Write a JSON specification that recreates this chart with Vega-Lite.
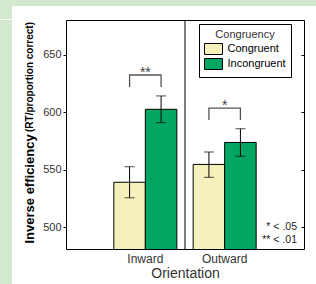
{
  "$schema": "https://vega.github.io/schema/vega-lite/v6.json",
  "padding": 0,
  "background": "white",
  "spacing": 0,
  "config": {
    "font": "Liberation Sans",
    "view": {"stroke": null},
    "concat": {"spacing": 0}
  },
  "datasets": {
    "bars": [
      {"Orientation": "Inward", "Congruency": "Congruent", "mean": 539, "lo": 525.5, "hi": 552.5},
      {"Orientation": "Inward", "Congruency": "Incongruent", "mean": 602.4, "lo": 590.8, "hi": 614},
      {"Orientation": "Outward", "Congruency": "Congruent", "mean": 554.5, "lo": 543.3, "hi": 565.3},
      {"Orientation": "Outward", "Congruency": "Incongruent", "mean": 573.6, "lo": 561.6, "hi": 585.5}
    ],
    "brackets": [
      {"Orientation": "Inward", "Congruency": "Congruent", "y": 621.8, "step": 1},
      {"Orientation": "Inward", "Congruency": "Congruent", "y": 632.2, "step": 2},
      {"Orientation": "Inward", "Congruency": "Incongruent", "y": 632.2, "step": 3},
      {"Orientation": "Inward", "Congruency": "Incongruent", "y": 621.8, "step": 4},
      {"Orientation": "Outward", "Congruency": "Congruent", "y": 593.1, "step": 1},
      {"Orientation": "Outward", "Congruency": "Congruent", "y": 603.5, "step": 2},
      {"Orientation": "Outward", "Congruency": "Incongruent", "y": 603.5, "step": 3},
      {"Orientation": "Outward", "Congruency": "Incongruent", "y": 593.1, "step": 4}
    ],
    "stars": [
      {"Orientation": "Inward", "label": "**", "y": 632.2},
      {"Orientation": "Outward", "label": "*", "y": 603.5}
    ],
    "notes": [
      {"label": "* < .05", "y": 500},
      {"label": "** < .01", "y": 488.5}
    ],
    "strip": [{"s": 1}]
  },
  "vconcat": [
    {
      "width": 316,
      "height": 6,
      "data": {"name": "strip"},
      "mark": {"type": "rect", "color": "#d4e8cf"}
    },
    {
      "width": 12,
      "height": 13,
      "data": {"name": "strip"},
      "mark": {"type": "rect", "color": "#d4e8cf"}
    },
    {
      "spacing": 11,
      "hconcat": [
        {
          "width": 12,
          "height": 265,
          "data": {"name": "strip"},
          "mark": {"type": "rect", "color": "#d4e8cf"}
        },
        {
          "width": 238,
          "height": 229,
          "resolve": {"axis": {"x": "independent", "y": "independent"}},
          "layer": [
            {
              "data": {"name": "bars"},
              "mark": {"type": "bar", "stroke": "black", "strokeWidth": 1, "clip": true},
              "encoding": {
                "x": {
                  "field": "Orientation", "type": "nominal",
                  "scale": {"domain": ["Inward", "Outward"], "paddingInner": 0.206, "paddingOuter": 0.603},
                  "axis": {
                    "orient": "bottom", "title": "Orientation", "labelAngle": 0, "ticks": false,
                    "domainColor": "black", "domainWidth": 1, "labelFontSize": 12, "labelColor": "#333",
                    "labelPadding": 4, "titleFontSize": 14, "titleFontWeight": "normal", "titleColor": "#333",
                    "titlePadding": 2, "minExtent": 0
                  }
                },
                "xOffset": {
                  "field": "Congruency", "type": "nominal",
                  "scale": {"domain": ["Congruent", "Incongruent"], "paddingInner": 0, "paddingOuter": 0}
                },
                "y": {
                  "field": "mean", "type": "quantitative",
                  "scale": {"domain": [481, 680], "zero": false, "nice": false},
                  "axis": {
                    "orient": "left", "values": [500, 550, 600, 650], "grid": false,
                    "tickSize": 3, "tickColor": "black", "domainColor": "black", "labelFontSize": 11,
                    "labelColor": "#333", "labelPadding": 2, "minExtent": 0,
                    "title": "Inverse efficiency", "titleFontSize": 13, "titleFontWeight": "bold",
                    "titleColor": "black", "titleAngle": 270, "titleAlign": "left", "titleBaseline": "alphabetic",
                    "titleX": -32.5, "titleY": 223
                  }
                },
                "color": {
                  "field": "Congruency", "type": "nominal",
                  "scale": {"domain": ["Congruent", "Incongruent"], "range": ["#f6f1bc", "#00a661"]},
                  "legend": {
                    "orient": "none", "legendX": 199, "legendY": 24, "title": "Congruency",
                    "titleAnchor": "middle", "titleFontSize": 11, "titleFontWeight": "normal", "titleColor": "#333",
                    "titlePadding": 3, "padding": 5, "strokeColor": "black", "fillColor": "white",
                    "symbolType": "M-1,-1H2.2727V1H-1Z", "symbolSize": 121, "symbolStrokeColor": "black",
                    "symbolStrokeWidth": 1, "symbolOpacity": 1, "labelOffset": 11.5, "rowPadding": -1,
                    "labelFontSize": 11, "labelColor": "black", "cornerRadius": 0
                  }
                }
              }
            },
            {
              "data": {"name": "bars"},
              "mark": {"type": "rule", "color": "black", "strokeWidth": 1},
              "encoding": {
                "x": {
                  "field": "Orientation", "type": "nominal",
                  "axis": {"orient": "top", "labels": false, "ticks": false, "title": null, "domainColor": "black", "minExtent": 0, "maxExtent": 0}
                },
                "xOffset": {"field": "Congruency", "type": "nominal"},
                "y": {
                  "field": "lo", "type": "quantitative",
                  "axis": {"orient": "right", "labels": false, "values": [500, 550, 600, 650], "tickSize": -3, "tickColor": "black", "domainColor": "black", "title": null, "grid": false, "minExtent": 0, "maxExtent": 0}
                },
                "y2": {"field": "hi"}
              }
            },
            {
              "data": {"name": "bars"},
              "mark": {"type": "tick", "color": "black", "size": 10, "thickness": 1, "orient": "horizontal"},
              "encoding": {
                "x": {"field": "Orientation", "type": "nominal", "axis": null},
                "xOffset": {"field": "Congruency", "type": "nominal"},
                "y": {"field": "lo", "type": "quantitative", "axis": null}
              }
            },
            {
              "data": {"name": "bars"},
              "mark": {"type": "tick", "color": "black", "size": 10, "thickness": 1, "orient": "horizontal"},
              "encoding": {
                "x": {"field": "Orientation", "type": "nominal", "axis": null},
                "xOffset": {"field": "Congruency", "type": "nominal"},
                "y": {"field": "hi", "type": "quantitative", "axis": null}
              }
            },
            {
              "data": {"name": "brackets"},
              "mark": {"type": "line", "color": "#555", "strokeWidth": 1.3},
              "encoding": {
                "x": {"field": "Orientation", "type": "nominal", "axis": null},
                "xOffset": {"field": "Congruency", "type": "nominal"},
                "y": {"field": "y", "type": "quantitative", "axis": null},
                "detail": {"field": "Orientation"},
                "order": {"field": "step", "type": "quantitative"}
              }
            },
            {
              "data": {"name": "stars"},
              "mark": {"type": "text", "fontSize": 14, "color": "#444", "baseline": "alphabetic", "dy": 2},
              "encoding": {
                "x": {"field": "Orientation", "type": "nominal", "axis": null},
                "y": {"field": "y", "type": "quantitative", "axis": null},
                "text": {"field": "label"}
              }
            },
            {
              "data": {"name": "notes"},
              "mark": {"type": "text", "fontSize": 10.5, "color": "#222", "align": "right", "baseline": "middle"},
              "encoding": {
                "x": {"datum": "Outward", "bandPosition": 1.648, "axis": null},
                "y": {"field": "y", "type": "quantitative", "axis": null},
                "text": {"field": "label"}
              }
            },
            {
              "data": {"name": "strip"},
              "mark": {"type": "rule", "color": "black", "strokeWidth": 1},
              "encoding": {
                "x": {"datum": "Inward", "bandPosition": 1.1297, "axis": null}
              }
            },
            {
              "data": {"name": "strip"},
              "mark": {"type": "text", "text": "(RT/proportion correct)", "angle": 270, "align": "left", "baseline": "alphabetic", "fontSize": 10, "fontWeight": "bold", "color": "black"},
              "encoding": {
                "x": {"datum": "Inward", "bandPosition": -1.2755, "axis": null},
                "y": {"datum": 582.7, "type": "quantitative", "axis": null}
              }
            }
          ]
        }
      ]
    }
  ]
}
